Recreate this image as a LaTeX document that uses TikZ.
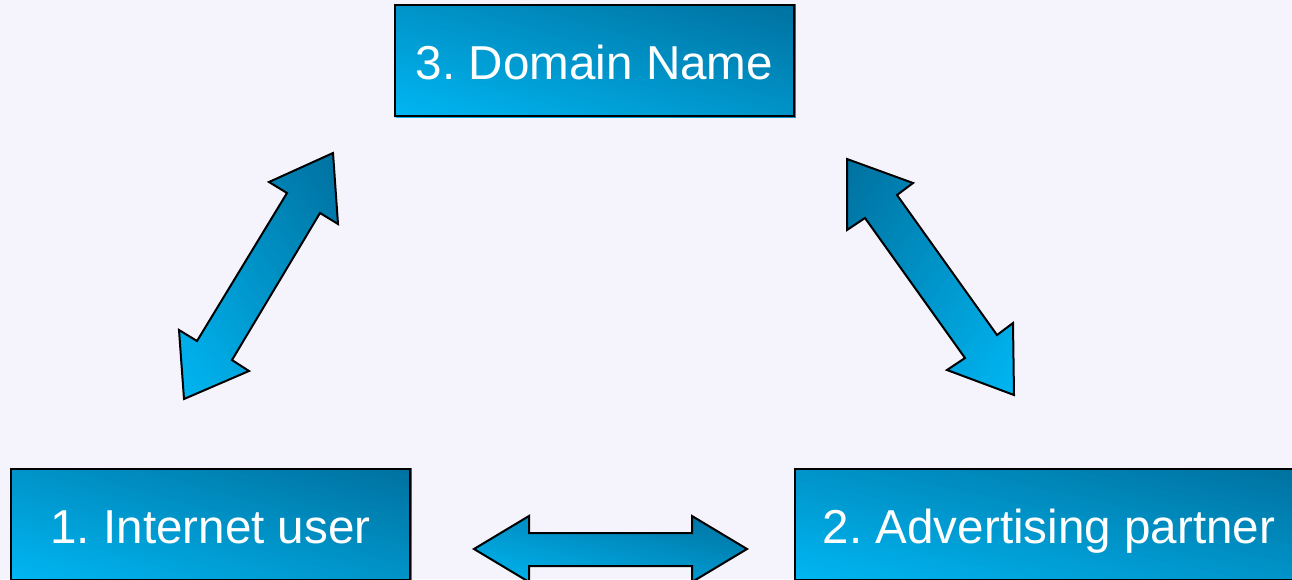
\documentclass[tikz,border=0pt]{standalone}
\usepackage{fontspec}
\setmainfont{Liberation Sans}
\usetikzlibrary{backgrounds}
\frenchspacing
\definecolor{bgcol}{RGB}{245,244,253}
\definecolor{blueLight}{RGB}{0,182,242}
\definecolor{blueDark}{RGB}{0,112,158}

% Diagonal gradient laid over the shape's own bounding box:
% light in one lower corner, dark in the opposite upper corner.
% #1 = 1: light bottom-left, dark top-right; #1 = 0: light bottom-right, dark top-left.
\newcommand{\gradstrips}[1]{%
  \pgfpointanchor{path picture bounding box}{south west}\pgfgetlastxy{\gsx}{\gsy}%
  \pgfpointanchor{path picture bounding box}{north east}\pgfgetlastxy{\gex}{\gey}%
  \pgfmathsetlengthmacro\gw{\gex-\gsx}%
  \pgfmathsetlengthmacro\gh{\gey-\gsy}%
  \ifnum#1=1
    \let\gox\gsx \pgfmathsetlengthmacro\gxw{\gw}%
  \else
    \let\gox\gex \pgfmathsetlengthmacro\gxw{-\gw}%
  \fi
  \begin{scope}[shift={(\gox,\gsy)}, x={(\gxw,0pt)}, y={(0pt,\gh)}]
    \foreach \i in {0,...,60}{%
      \pgfmathsetmacro\gc{\i/30}%
      \pgfmathsetmacro\gp{\i*100/60}%
      \fill[blueDark!\gp!blueLight] (\gc-3,3) -- (\gc+3,-3) -- (9,-3) -- (9,9) -- (\gc-3,9) -- cycle;
    }
  \end{scope}}

\tikzset{
  outlined/.style={draw=black, line width=1pt, line join=miter},
  risefill/.style={path picture={\gradstrips{1}}},
  fallfill/.style={path picture={\gradstrips{0}}},
  box/.style={rectangle, outlined, text=white,
    font=\fontsize{23.8}{29}\selectfont, inner sep=0pt, minimum height=55.5pt,
    text height=18.5pt, text depth=0pt},
  blockarrow/.style={outlined},
}
\begin{document}
\begin{tikzpicture}[x=0.5pt,y=-0.5pt]
  \useasboundingbox (0,0) rectangle (1292,579);
  \clip (0,0) rectangle (1292,579);

  % the three parties
  \node[box, minimum width=199.5pt] (domain)  at (594.5,60.5)  {3. Domain Name};
  \node[box, minimum width=199.5pt] (user)    at (210.5,524.5) {1. Internet user};
  \node[box, minimum width=254pt]   (partner) at (1049,524.5)  {2. Advertising partner};

  % page colour and the gradient fills of the boxes, kept behind borders and text
  \begin{scope}[on background layer]
    \fill[bgcol] (0,0) rectangle (1292,579);
    \foreach \b in {domain,user,partner}
      \path[risefill] (\b.south west) rectangle (\b.north east);
  \end{scope}

  % user <-> domain
  \path[blockarrow, risefill] (333,153) -- (338,224) -- (320,213) -- (232,360) -- (249,371)
    -- (184,399) -- (179,330) -- (197,341) -- (287,193) -- (269,182) -- cycle;

  % domain <-> partner
  \path[blockarrow, fallfill] (847,159) -- (913,183) -- (897,195) -- (997,335)
    -- (1013,323) -- (1014,395) -- (947,370) -- (965,358) -- (865,218) -- (847,230) -- cycle;

  % user <-> partner
  \path[blockarrow, risefill] (474,549) -- (529,516) -- (529,533) -- (692,533) -- (692,516)
    -- (747,549) -- (692,582) -- (692,566) -- (529,566) -- (529,582) -- cycle;
\end{tikzpicture}
\end{document}
